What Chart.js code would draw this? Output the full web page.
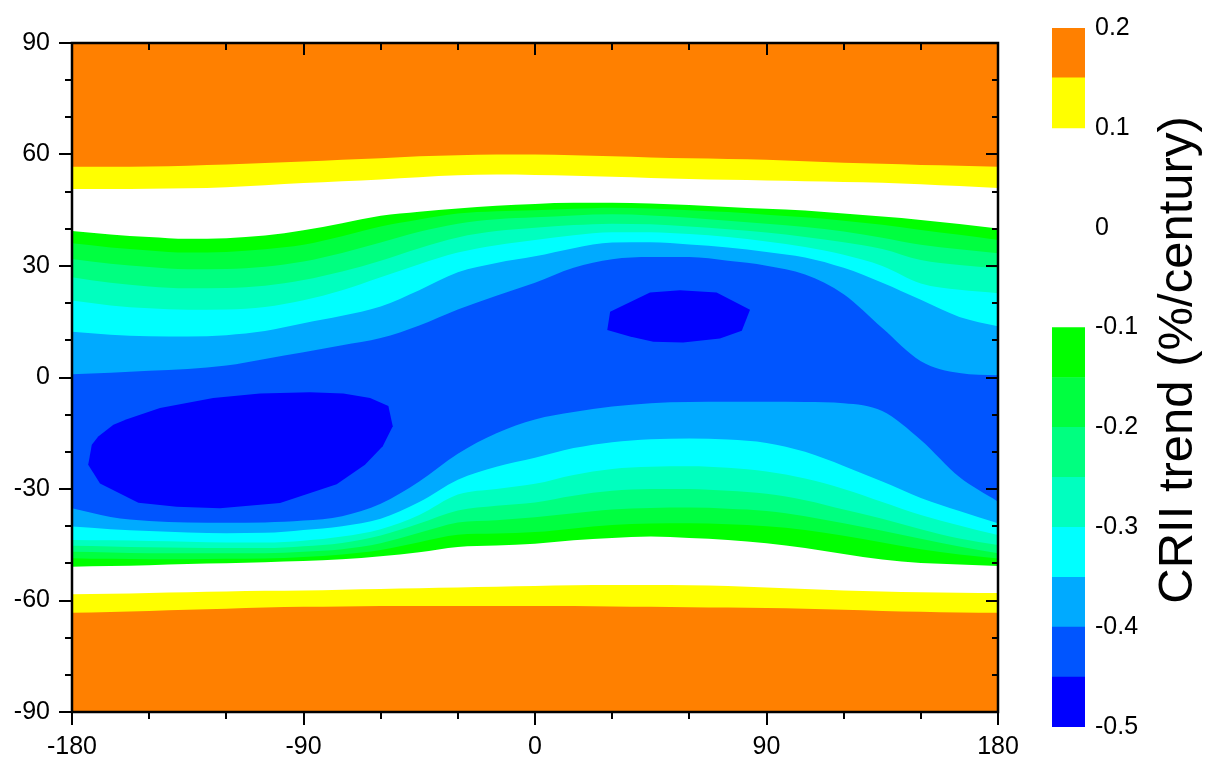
<!DOCTYPE html>
<html>
<head>
<meta charset="utf-8">
<script src="https://cdn.jsdelivr.net/npm/chart.js@4.4.1/dist/chart.umd.min.js"></script>
<style>
  body { margin: 0; background: #fff; }
  #wrap { position: relative; width: 1207px; height: 775px; overflow: hidden; }
  #map { position: absolute; left: 0; top: 0; }
  #bar { position: absolute; left: 1000px; top: 0; }
</style>
</head>
<body>
<div id="wrap">
  <canvas id="map" width="1040" height="775"></canvas>
  <canvas id="bar" width="207" height="775"></canvas>
</div>
<script>
const lons = [-180, -165, -150, -135, -120, -105, -90, -75, -60, -45, -30, -15, 0,
              15, 30, 45, 60, 75, 90, 105, 120, 135, 150, 165, 180]

// northern hemisphere contour latitudes (level in the name)
const north015 = [56.7, 56.7, 56.8, 57.0, 57.3, 57.7, 58.1, 58.6, 59.0, 59.5, 59.8, 60.0, 60.0, 59.8, 59.5, 59.2, 59.0, 58.8, 58.6, 58.2, 57.8, 57.5, 57.2, 57.0, 56.7]
const north010 = [50.7, 50.7, 50.8, 50.9, 51.2, 51.7, 52.3, 52.8, 53.3, 53.9, 54.4, 54.6, 54.5, 54.3, 54.0, 53.7, 53.4, 53.2, 53.0, 52.8, 52.6, 52.4, 52.0, 51.5, 51.0]
const northM010 = [39.4, 38.5, 37.8, 37.3, 37.5, 38.2, 39.6, 41.5, 43.5, 44.6, 45.5, 46.2, 46.7, 47.0, 47.0, 46.8, 46.4, 45.9, 45.4, 44.9, 44.1, 43.3, 42.4, 41.3, 40.1]
const northM015 = [36.1, 35.0, 34.2, 33.6, 33.8, 34.5, 35.7, 38.0, 40.6, 42.5, 44.1, 44.7, 45.0, 45.4, 45.7, 45.5, 45.0, 44.5, 43.8, 43.1, 42.2, 41.1, 39.7, 38.4, 37.0]
const northM020 = [31.9, 30.6, 29.7, 29.1, 29.2, 29.8, 31.2, 33.5, 36.3, 39.2, 41.4, 42.6, 43.1, 43.6, 43.9, 43.6, 43.0, 42.2, 41.4, 40.5, 39.3, 37.6, 35.7, 34.5, 33.4]
const northM025 = [27.0, 25.5, 24.5, 24.0, 24.1, 24.7, 26.2, 28.5, 31.4, 34.8, 37.7, 39.4, 40.3, 41.0, 41.4, 41.2, 40.6, 39.9, 39.0, 37.8, 36.4, 34.6, 31.6, 30.3, 29.4]
const northM030 = [20.7, 19.4, 18.6, 18.2, 18.3, 19.0, 20.8, 23.5, 27.0, 30.5, 33.6, 35.6, 37.0, 38.3, 39.1, 39.1, 38.6, 37.8, 36.6, 35.1, 33.0, 30.0, 25.3, 23.6, 22.7]
const northM035 = [12.3, 11.5, 11.1, 11.0, 11.4, 12.5, 14.6, 16.6, 19.1, 23.5, 28.3, 30.8, 32.6, 34.8, 36.3, 36.4, 35.8, 35.0, 33.8, 32.3, 29.5, 25.5, 20.9, 16.3, 13.8]
const northM040 = [0.9, 1.3, 1.8, 2.3, 3.2, 5.0, 6.8, 8.7, 10.6, 14.0, 18.3, 22.0, 25.5, 29.5, 31.8, 32.4, 32.4, 31.4, 30.1, 27.7, 22.4, 13.3, 4.4, 1.2, 0.6]

// southern hemisphere contour latitudes
const south015 = [-63.3, -63.1, -62.8, -62.5, -62.2, -61.9, -61.7, -61.6, -61.5, -61.5, -61.5, -61.5, -61.5, -61.5, -61.6, -61.7, -61.8, -61.9, -62.0, -62.2, -62.5, -62.8, -63.0, -63.2, -63.3]
const south010 = [-58.3, -58.2, -58.0, -57.8, -57.6, -57.4, -57.3, -57.1, -56.9, -56.7, -56.5, -56.3, -56.1, -55.9, -55.8, -55.8, -55.9, -56.1, -56.5, -56.9, -57.3, -57.6, -57.8, -57.9, -58.0]
const southM010 = [-50.9, -50.7, -50.5, -50.2, -50.0, -49.7, -49.4, -48.9, -48.1, -47.0, -45.6, -45.2, -44.7, -43.8, -43.2, -42.8, -43.2, -43.7, -44.6, -45.9, -47.5, -49.0, -49.9, -50.3, -50.7]
const southM015 = [-48.6, -48.8, -48.9, -48.9, -48.8, -48.7, -48.3, -47.6, -46.4, -44.3, -42.3, -42.0, -41.6, -40.6, -39.7, -39.3, -39.2, -39.5, -40.0, -41.0, -42.6, -44.4, -46.2, -47.6, -48.7]
const southM020 = [-46.9, -47.1, -47.3, -47.3, -47.3, -47.3, -46.9, -46.2, -44.6, -41.8, -39.0, -38.4, -37.6, -36.5, -35.5, -35.1, -35.0, -35.3, -35.9, -37.3, -39.2, -41.2, -43.4, -45.5, -47.3]
const southM025 = [-45.3, -45.5, -45.7, -45.8, -45.9, -45.9, -45.4, -44.5, -42.5, -39.3, -35.8, -34.5, -33.6, -31.8, -30.5, -30.0, -30.0, -30.5, -31.3, -33.0, -35.5, -38.0, -40.8, -43.3, -45.1]
const southM030 = [-43.7, -43.8, -44.0, -44.2, -44.4, -44.4, -43.9, -42.8, -40.8, -37.0, -31.5, -30.0, -28.6, -26.2, -24.6, -24.0, -23.9, -24.3, -25.3, -27.2, -30.0, -33.5, -37.0, -39.8, -42.4]
const southM035 = [-40.1, -40.8, -41.3, -41.7, -41.9, -41.8, -41.0, -40.0, -38.0, -33.5, -27.5, -24.0, -21.6, -19.0, -17.4, -16.6, -16.4, -16.7, -17.6, -20.0, -23.8, -28.0, -32.4, -35.9, -39.2]
const southM040 = [-35.2, -37.5, -38.6, -39.0, -39.1, -39.0, -38.5, -37.3, -34.0, -28.0, -20.5, -15.0, -11.3, -9.3, -7.8, -6.9, -6.6, -6.5, -6.5, -6.6, -6.9, -9.0, -16.8, -26.8, -33.4]

// closed -0.45 contours (the two darkest patches)
const northCoreLon = [28.1, 29.2, 44.7, 56.4, 70.6, 83.6, 80.4, 71.9, 57.6, 46.0, 36.9, 28.1]
const northCoreLat = [12.8, 17.7, 22.9, 23.5, 22.9, 18.2, 12.6, 10.5, 9.4, 9.6, 11.0, 12.8]
const southCoreLon = [-173.7, -172.3, -169.8, -163.9, -158.7, -145.8, -125.1, -106.9, -87.5, -74.5, -64.1, -57.0, -55.3, -59.2, -66.1, -77.1, -99.1, -122.5, -139.3, -154.2, -169.1, -173.7]
const southCoreLat = [-23.5, -18.1, -15.9, -12.7, -11.2, -8.2, -5.5, -4.3, -4.0, -4.3, -5.5, -7.7, -13.1, -18.5, -23.5, -28.7, -33.8, -35.2, -34.8, -33.7, -28.5, -23.5]

// contour levels, outermost first, and the colour of the band on their poleward side
const levels = [0.15, 0.1, -0.1, -0.15, -0.2, -0.25, -0.3, -0.35, -0.4]
const bandColors = ['#FF8000', '#FFFF00', '#FFFFFF', '#00FF00', '#00FF40', '#00FF80', '#00FFBF', '#00FFFF', '#00AAFF']
const northLines = [north015, north010, northM010, northM015, northM020, northM025, northM030, northM035, northM040]
const southLines = [south015, south010, southM010, southM015, southM020, southM025, southM030, southM035, southM040]
const innerColor = '#0055FF'
const coreColor = '#0000FF'

const xTicks = [-180, -90, 0, 90, 180]
const yTicks = [-90, -60, -30, 0, 30, 60, 90]

// colour bar
const cbLow = [-0.5, -0.45, -0.4, -0.35, -0.3, -0.25, -0.2, -0.15, 0.1, 0.15]
const cbHigh = [-0.45, -0.4, -0.35, -0.3, -0.25, -0.2, -0.15, -0.1, 0.15, 0.2]
const cbColors = ['#0000FF', '#0055FF', '#00AAFF', '#00FFFF', '#00FFBF', '#00FF80', '#00FF40', '#00FF00', '#FFFF00', '#FF8000']
const cbTickValues = [0.2, 0.1, 0, -0.1, -0.2, -0.3, -0.4, -0.5]
const cbTickLabels = ['0.2', '0.1', '0', '-0.1', '-0.2', '-0.3', '-0.4', '-0.5']
const cbTitle = 'CRII trend (%/century)'

Chart.defaults.color = '#000'
Chart.defaults.font.family = '"Liberation Sans", Arial, sans-serif'
const tickFont = { size: 25 }

function bandSet(lats, color, fill) {
  return {
    data: lons.map((x, i) => ({ x, y: lats[i] })),
    backgroundColor: color,
    borderWidth: 0,
    pointRadius: 0,
    fill: fill,
    cubicInterpolationMode: 'monotone'
  }
}

function coreSet(xs, ys) {
  return {
    data: xs.map((x, i) => ({ x, y: ys[i] })),
    backgroundColor: coreColor,
    borderWidth: 0,
    pointRadius: 0,
    tension: 0,
    fill: 'shape'
  }
}

// first dataset ends up on top
const datasets = [coreSet(northCoreLon, northCoreLat), coreSet(southCoreLon, southCoreLat)]
levels.forEach((lvl, i) => {
  datasets.push(bandSet(northLines[i], bandColors[i], 'end'))
  datasets.push(bandSet(southLines[i], bandColors[i], 'start'))
})

const areaBackground = {
  id: 'areaBackground',
  beforeDatasetsDraw(chart) {
    const { ctx, chartArea: a } = chart
    ctx.save()
    ctx.fillStyle = innerColor
    ctx.fillRect(a.left, a.top, a.right - a.left, a.bottom - a.top)
    ctx.restore()
  }
}

// box with major/minor ticks, outward on left/bottom, inward on top/right
const frame = {
  id: 'frame',
  afterDraw(chart) {
    const { ctx, chartArea: a, scales } = chart
    const seg = (x1, y1, x2, y2) => {
      ctx.beginPath()
      ctx.moveTo(x1, y1)
      ctx.lineTo(x2, y2)
      ctx.stroke()
    }
    ctx.save()
    ctx.strokeStyle = '#000'
    ctx.lineWidth = 2
    for (let v = -180; v <= 180; v += 30) {
      const px = Math.round(scales.x.getPixelForValue(v))
      const major = xTicks.includes(v)
      seg(px, a.bottom, px, a.bottom + (major ? 13 : 7))
      seg(px, a.top, px, a.top + (major ? 12 : 7))
    }
    for (let v = -90; v <= 90; v += 10) {
      const py = Math.round(scales.y.getPixelForValue(v))
      const major = yTicks.includes(v)
      seg(a.left - (major ? 13 : 7), py, a.left, py)
      seg(a.right - (major ? 12 : 6), py, a.right, py)
    }
    ctx.lineWidth = 2.5
    ctx.strokeRect(a.left, a.top, a.right - a.left, a.bottom - a.top)
    ctx.restore()
  }
}

new Chart(document.getElementById('map'), {
  type: 'line',
  data: { datasets },
  options: {
    responsive: false,
    animation: false,
    events: [],
    layout: { padding: { top: 43, right: 42, left: 0, bottom: 0 } },
    plugins: { legend: { display: false }, tooltip: { enabled: false } },
    scales: {
      x: {
        type: 'linear', min: -180, max: 180,
        afterBuildTicks: s => { s.ticks = xTicks.map(v => ({ value: v })) },
        afterFit: s => { s.height = 63 },
        ticks: { font: tickFont, padding: 20, maxRotation: 0, autoSkip: false },
        grid: { display: false, drawTicks: false },
        border: { display: false }
      },
      y: {
        type: 'linear', min: -90, max: 90,
        afterBuildTicks: s => { s.ticks = yTicks.map(v => ({ value: v })) },
        afterFit: s => { s.width = 72 },
        ticks: { font: tickFont, padding: 22, autoSkip: false },
        grid: { display: false, drawTicks: false },
        border: { display: false }
      }
    }
  },
  plugins: [areaBackground, frame]
})

const barTitle = {
  id: 'barTitle',
  afterDraw(chart) {
    const { ctx } = chart
    ctx.save()
    ctx.translate(192, 360)
    ctx.rotate(-Math.PI / 2)
    ctx.fillStyle = '#000'
    ctx.font = '49px "Liberation Sans", Arial, sans-serif'
    ctx.textAlign = 'center'
    ctx.textBaseline = 'alphabetic'
    ctx.fillText(cbTitle, 0, 0)
    ctx.restore()
  }
}

new Chart(document.getElementById('bar'), {
  type: 'bar',
  data: {
    labels: [''],
    datasets: cbColors.map((c, i) => ({
      data: [[cbLow[i], cbHigh[i]]],
      backgroundColor: c,
      borderWidth: 0,
      barPercentage: 1,
      categoryPercentage: 1,
      grouped: false
    }))
  },
  options: {
    responsive: false,
    animation: false,
    events: [],
    layout: { padding: { top: 28, bottom: 48, left: 52, right: 0 } },
    plugins: { legend: { display: false }, tooltip: { enabled: false } },
    scales: {
      x: { display: false },
      y: {
        position: 'right', min: -0.5, max: 0.2,
        afterBuildTicks: s => { s.ticks = cbTickValues.map(v => ({ value: v })) },
        afterFit: s => { s.width = 122 },
        ticks: {
          font: tickFont, padding: 10, autoSkip: false,
          callback: (v, i) => cbTickLabels[i]
        },
        grid: { display: false, drawTicks: false },
        border: { display: false }
      }
    }
  },
  plugins: [barTitle]
})
</script>
</body>
</html>
